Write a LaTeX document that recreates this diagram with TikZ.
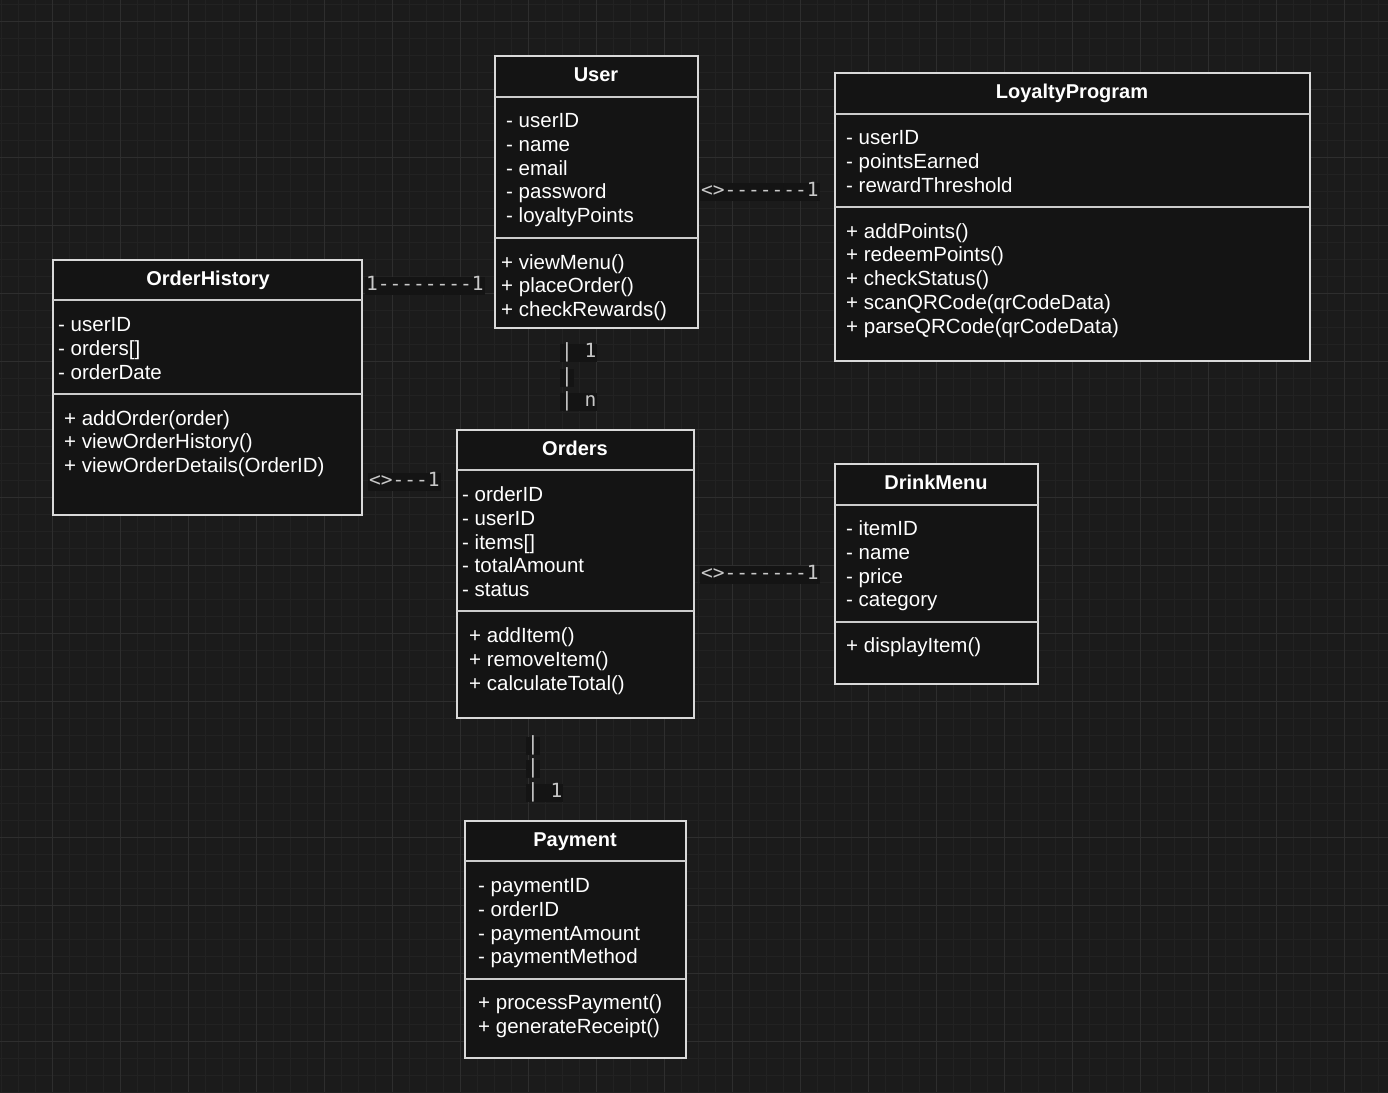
\documentclass[tikz,border=0pt]{standalone}
\usepackage{fontspec}
\setmainfont{Liberation Sans}
\newfontfamily\mono{DejaVu Sans Mono}
\definecolor{bg}{HTML}{1B1B1B}
\definecolor{boxbg}{HTML}{141414}
\definecolor{gmin}{HTML}{222222}
\definecolor{gmaj}{HTML}{2E2E2E}
\definecolor{lbl}{HTML}{C8C8C8}
\begin{document}
\begin{tikzpicture}[x=1pt,y=-1pt,
  box/.style={draw=white!85!black,line width=1.2pt,fill=boxbg},
  sep/.style={draw=white!80!black,line width=1.2pt},
  ttl/.style={text=white,font=\fontsize{20}{24}\selectfont\bfseries,anchor=center,text height=14pt,text depth=4pt,yshift=-2pt},
  itm/.style={text=white,font=\fontsize{20.5}{24}\selectfont,anchor=west,inner sep=0pt,text height=15pt,text depth=4pt,yshift=-2pt},
  con/.style={text=lbl,font=\mono\fontsize{19.5}{22}\selectfont,anchor=west,inner sep=1pt,fill=boxbg,text height=13pt,text depth=3pt,yshift=-1.5pt}]
\fill[bg] (0,0) rectangle (1388,1092);
\useasboundingbox (0,0) rectangle (1388,1092);
\foreach \i in {0,...,82}{\draw[gmin,line width=0.8pt] ({1+17*\i},0) -- ({1+17*\i},1092);}
\foreach \i in {0,...,65}{\draw[gmin,line width=0.8pt] (0,{4+17*\i}) -- (1388,{4+17*\i});}
\foreach \i in {0,...,20}{\draw[gmaj,line width=1pt] ({52+68*\i},0) -- ({52+68*\i},1092);}
\foreach \i in {0,...,16}{\draw[gmaj,line width=1pt] (0,{21+68*\i}) -- (1388,{21+68*\i});}

% User
\draw[box] (495,56) rectangle (698,328);
\node[ttl] (userT) at (596,74) {User};
\draw[sep] (495,97) -- (698,97); \draw[sep] (495,238) -- (698,238);
\foreach \t/\y in {- userID/120,- name/144,- email/168,- password/191,- loyaltyPoints/215}{\node[itm] at (506,\y) {\t};}
\foreach \t/\y in {+ viewMenu()/262,+ placeOrder()/285,+ checkRewards()/309}{\node[itm] at (501,\y) {\t};}

% LoyaltyProgram
\draw[box] (835,73) rectangle (1310,361);
\node[ttl] (loyT) at (1072,91) {LoyaltyProgram};
\draw[sep] (835,114) -- (1310,114); \draw[sep] (835,207) -- (1310,207);
\foreach \t/\y in {- userID/137,- pointsEarned/161,- rewardThreshold/185}{\node[itm] at (846,\y) {\t};}
\foreach \t/\y in {+ addPoints()/231,+ redeemPoints()/254,+ checkStatus()/278,+ scanQRCode(qrCodeData)/302,+ parseQRCode(qrCodeData)/326}{\node[itm] at (846,\y) {\t};}

% OrderHistory
\draw[box] (53,260) rectangle (362,515);
\node[ttl] (ohT) at (208,278) {OrderHistory};
\draw[sep] (53,300) -- (362,300); \draw[sep] (53,394) -- (362,394);
\foreach \t/\y in {- userID/324,- orders[]/348,- orderDate/372}{\node[itm] at (58,\y) {\t};}
\foreach \t/\y in {+ addOrder(order)/418,+ viewOrderHistory()/441,+ viewOrderDetails(OrderID)/465}{\node[itm] at (64,\y) {\t};}

% Orders
\draw[box] (457,430) rectangle (694,718);
\node[ttl] (ordT) at (575,448) {Orders};
\draw[sep] (457,470) -- (694,470); \draw[sep] (457,611) -- (694,611);
\foreach \t/\y in {- orderID/494,- userID/518,- items[]/542,- totalAmount/565,- status/589}{\node[itm] at (462,\y) {\t};}
\foreach \t/\y in {+ addItem()/635,+ removeItem()/659,+ calculateTotal()/683}{\node[itm] at (469,\y) {\t};}

% DrinkMenu
\draw[box] (835,464) rectangle (1038,684);
\node[ttl] (dmT) at (936,482) {DrinkMenu};
\draw[sep] (835,505) -- (1038,505); \draw[sep] (835,622) -- (1038,622);
\foreach \t/\y in {- itemID/528,- name/552,- price/576,- category/599}{\node[itm] at (846,\y) {\t};}
\node[itm] at (846,645) {+ displayItem()};

% Payment
\draw[box] (465,821) rectangle (686,1058);
\node[ttl] (payT) at (575,839) {Payment};
\draw[sep] (465,861) -- (686,861); \draw[sep] (465,979) -- (686,979);
\foreach \t/\y in {- paymentID/885,- orderID/909,- paymentAmount/933,- paymentMethod/956}{\node[itm] at (478,\y) {\t};}
\foreach \t/\y in {+ processPayment()/1002,+ generateReceipt()/1026}{\node[itm] at (478,\y) {\t};}

% connector texts
\node[con] (c1) at (700,190) {<>-------1};
\node[con] (c2) at (365,284) {1--------1};
\node[con] (c3) at (368,480) {<>---1};
\node[con] (c4) at (700,573) {<>-------1};
\node[con] (c5) at (560,351) {|  1};
\node[con] (c6) at (560,376) {|};
\node[con] (c7) at (560,400) {|  n};
\node[con] (c8) at (526,744) {|};
\node[con] (c9) at (526,767) {|};
\node[con] (c10) at (526,791) {|  1};
\end{tikzpicture}
\end{document}
